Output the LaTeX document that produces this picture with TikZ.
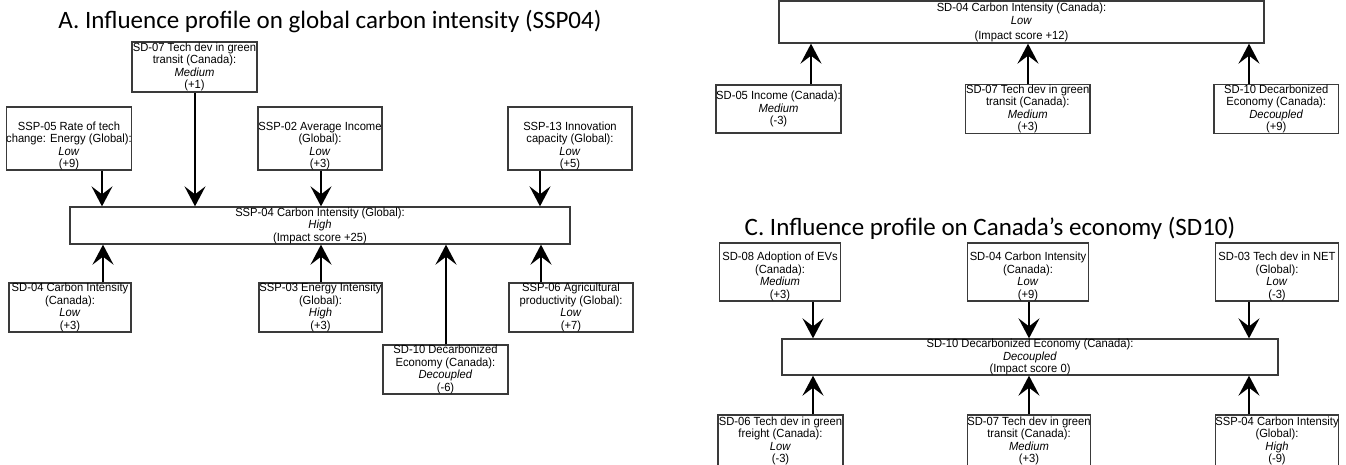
\documentclass[tikz,border=0pt]{standalone}
\usepackage{fontspec}
\setmainfont{Liberation Sans}
\newfontfamily\titlefont{Carlito}
\newfontfamily\boxfont[FakeStretch=0.95]{Liberation Sans}
\usetikzlibrary{arrows.meta}
\definecolor{edge}{HTML}{3A3A3A}
\tikzset{
  box/.style={draw=edge, line width=1.3pt, inner sep=0pt, align=center, fill=white,
    font=\boxfont\fontsize{11.8}{12.5}\selectfont},
  ttl/.style={font=\titlefont\fontsize{25}{30}\selectfont, inner sep=0pt},
  arr/.style={line width=2pt, -{Stealth[length=20pt,width=21pt,inset=8pt]}},
}
\begin{document}
\begin{tikzpicture}[x=1pt,y=-1pt]
\useasboundingbox (0,0) rectangle (1346,464);
% ---------- Panel A ----------
\node[ttl] (ta) at (330,22) {A. Influence profile on global carbon intensity (SSP04)};
\node[box, minimum width=125pt, minimum height=50pt] (a7) at (194.5,67)
  {SD-07 Tech dev in green\\transit (Canada):\\\textit{Medium}\\(+1)};
\node[box, minimum width=124pt, minimum height=63pt] (a5) at (69,138.5)
  {\rule{0pt}{23pt}SSP-05 Rate of tech\\change: Energy (Global):\\\textit{Low}\\(+9)};
\node[box, minimum width=124pt, minimum height=63pt] (a2) at (320,138.5)
  {\rule{0pt}{23pt}SSP-02 Average Income\\(Global):\\\textit{Low}\\(+3)};
\node[box, minimum width=124pt, minimum height=63pt] (a13) at (570,138.5)
  {\rule{0pt}{23pt}SSP-13 Innovation\\capacity (Global):\\\textit{Low}\\(+5)};
\node[box, minimum width=500pt, minimum height=37pt] (a0) at (320,225.5)
  {SSP-04 Carbon Intensity (Global):\\\textit{High}\\(Impact score +25)};
\node[box, minimum width=122pt, minimum height=49pt] (b4) at (70,307.5)
  {SD-04 Carbon Intensity\\(Canada):\\\textit{Low}\\(+3)};
\node[box, minimum width=123pt, minimum height=49pt] (b3) at (320.5,307.5)
  {SSP-03 Energy Intensity\\(Global):\\\textit{High}\\(+3)};
\node[box, minimum width=124pt, minimum height=49pt] (b6) at (571,307.5)
  {SSP-06 Agricultural\\productivity (Global):\\\textit{Low}\\(+7)};
\node[box, minimum width=125pt, minimum height=49pt] (b10) at (445.5,369.5)
  {SD-10 Decarbonized\\Economy (Canada):\\\textit{Decoupled}\\(-6)};
\draw[arr] (a5.south -| 102,0) -- (a0.north -| 102,0);
\draw[arr] (a7.south -| 195,0) -- (a0.north -| 195,0);
\draw[arr] (a2.south -| 321,0) -- (a0.north -| 321,0);
\draw[arr] (a13.south -| 540,0) -- (a0.north -| 540,0);
\draw[arr] (b4.north -| 103,0) -- (a0.south -| 103,0);
\draw[arr] (b3.north -| 321,0) -- (a0.south -| 321,0);
\draw[arr] (b10.north -| 446,0) -- (a0.south -| 446,0);
\draw[arr] (b6.north -| 541,0) -- (a0.south -| 541,0);
% ---------- Panel B ----------
\node[box, minimum width=485pt, minimum height=42pt] (c0) at (1021.5,22)
  {SD-04 Carbon Intensity (Canada):\\[0.5pt]\textit{Low}\\[2.5pt](Impact score +12)};
\node[box, minimum width=125pt, minimum height=48pt] (c5) at (778.5,109)
  {SD-05 Income (Canada):\\\textit{Medium}\\(-3)};
\node[box, minimum width=124.5pt, minimum height=48pt] (c7) at (1027.75,109)
  {SD-07 Tech dev in green\\transit (Canada):\\\textit{Medium}\\(+3)};
\node[box, minimum width=124.5pt, minimum height=48pt] (c10) at (1276.25,109)
  {SD-10 Decarbonized\\Economy (Canada):\\\textit{Decoupled}\\(+9)};
\draw[arr] (c5.north -| 811,0) -- (c0.south -| 811,0);
\draw[arr] (c7.north -| 1028,0) -- (c0.south -| 1028,0);
\draw[arr] (c10.north -| 1249,0) -- (c0.south -| 1249,0);
% ---------- Panel C ----------
\node[ttl] (tc) at (990,228) {C. Influence profile on Canada’s economy (SD10)};
\node[box, minimum width=121pt, minimum height=58pt] (d8) at (780,272)
  {\rule{0pt}{17pt}SD-08 Adoption of EVs\\(Canada):\\\textit{Medium}\\(+3)};
\node[box, minimum width=121pt, minimum height=58pt] (d4) at (1028,272)
  {\rule{0pt}{17pt}SD-04 Carbon Intensity\\(Canada):\\\textit{Low}\\(+9)};
\node[box, minimum width=122.5pt, minimum height=58pt] (d3) at (1277,272)
  {\rule{0pt}{17pt}SD-03 Tech dev in NET\\(Global):\\\textit{Low}\\(-3)};
\node[box, minimum width=496pt, minimum height=36pt] (d0) at (1030,357)
  {SD-10 Decarbonized Economy (Canada):\\\textit{Decoupled}\\(Impact score 0)};
\node[box, minimum width=125pt, minimum height=52pt] (e6) at (780.5,441)
  {SD-06 Tech dev in green\\freight (Canada):\\\textit{Low}\\(-3)};
\node[box, minimum width=122pt, minimum height=52pt] (e7) at (1029,441)
  {SD-07 Tech dev in green\\transit (Canada):\\\textit{Medium}\\(+3)};
\node[box, minimum width=122.5pt, minimum height=52pt] (e4) at (1277,441)
  {SSP-04 Carbon Intensity\\(Global):\\\textit{High}\\(-9)};
\draw[arr] (d8.south -| 813,0) -- (d0.north -| 813,0);
\draw[arr] (d4.south -| 1029,0) -- (d0.north -| 1029,0);
\draw[arr] (d3.south -| 1249,0) -- (d0.north -| 1249,0);
\draw[arr] (e6.north -| 813,0) -- (d0.south -| 813,0);
\draw[arr] (e7.north -| 1029,0) -- (d0.south -| 1029,0);
\draw[arr] (e4.north -| 1249,0) -- (d0.south -| 1249,0);
\end{tikzpicture}
\end{document}
